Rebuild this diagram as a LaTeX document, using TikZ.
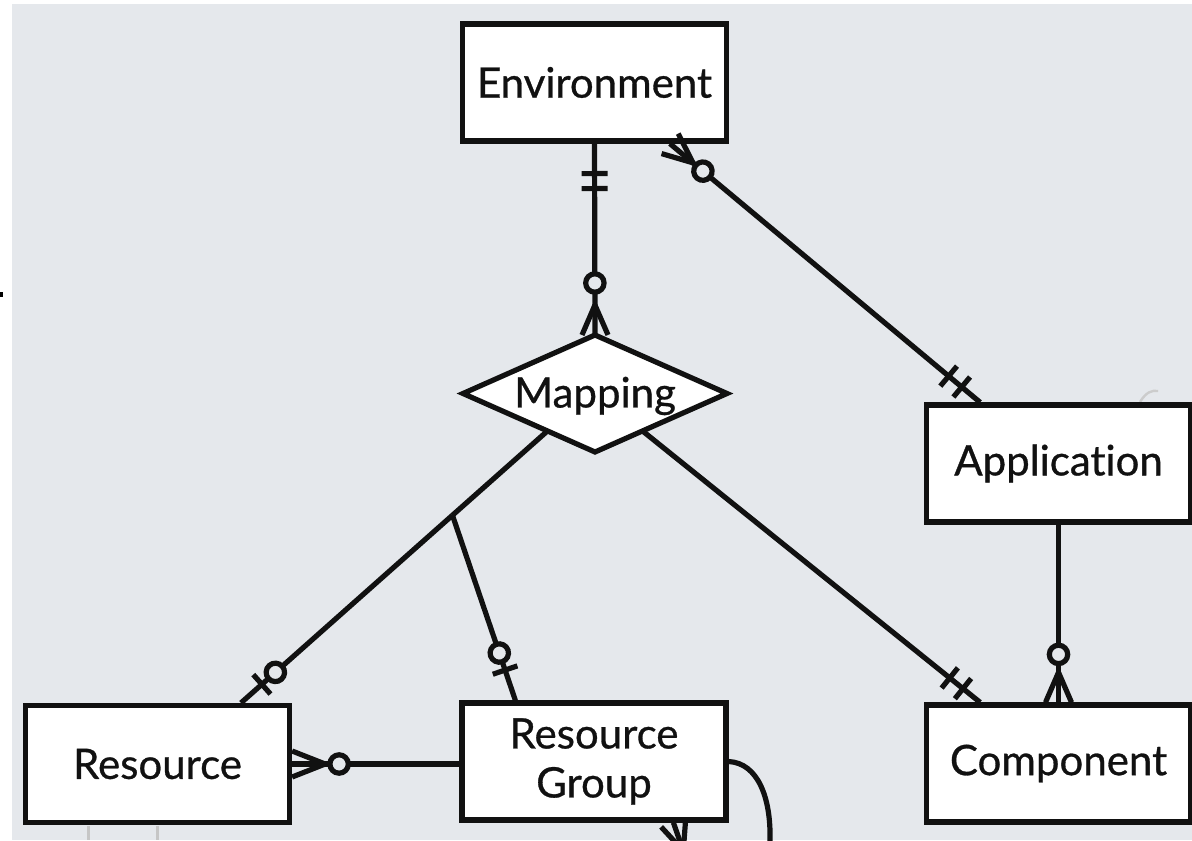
\documentclass[tikz,border=0pt]{standalone}
\usepackage{fontspec}
\setmainfont{Lato}[Ligatures=NoCommon,FakeBold=0.7]
\usetikzlibrary{calc,decorations.markings}
\definecolor{bg}{HTML}{E5E8EC}
\definecolor{ink}{HTML}{111111}
\newcommand{\lw}{2.6pt}
\tikzset{
  lbl/.style={font=\fontsize{21}{24.5}\selectfont,text=ink,align=center},
  entity/.style={lbl,draw=ink,line width=\lw,fill=white,rectangle,inner sep=0pt,
    minimum width=132pt,minimum height=58.5pt},
  conn/.style={draw=ink,line width=\lw},
  bar at/.style={postaction={decorate,decoration={markings,
    mark=at position #1 with {\draw[ink,line width=\lw] (0,-6.5pt)--(0,6.5pt);}}}},
  ring at/.style={postaction={decorate,decoration={markings,
    mark=at position #1 with {\draw[ink,line width=\lw,fill=bg] (0,0) circle (4.6pt);}}}},
  crow end/.style={postaction={decorate,decoration={markings,
    mark=at position -0.01pt with {\draw[ink,line width=\lw] (-#1,0)--(0,6.5pt) (-#1,0)--(0,-6.5pt);}}}},
  crow start/.style={postaction={decorate,decoration={markings,
    mark=at position 0.01pt with {\draw[ink,line width=\lw] (#1,0)--(0,6.5pt) (#1,0)--(0,-6.5pt);}}}},
}
\begin{document}
\begin{tikzpicture}[x=0.5pt,y=-0.5pt]
\useasboundingbox (0,0) rectangle (1192,840);
\clip (0,0) rectangle (1192,840);
\fill[white] (0,0) rectangle (1192,840);
\fill[bg] (12,4) rectangle (1192,840);
\fill[black] (0,292) rectangle (3,297);
\draw[gray!45,line width=1.5pt] (88,826) -- (88,840) (157,826) -- (157,840);
\draw[gray!40,line width=1.2pt] (1140,402) .. controls (1146,392) and (1152,390) .. (1158,391);

% entities
\node[entity] (env) at (594.5,82.5) {Environment};
\node[entity] (app) at (1058.5,463.5) {Application};
\node[entity] (comp) at (1058.5,763.5) {Component};
\node[entity] (res) at (157.5,764) {Resource};
\node[entity] (rg) at (594,761.5) {Resource\\Group};

% relationship (diamond)
\coordinate (mN) at (595,335);
\coordinate (mE) at (727,393.5);
\coordinate (mS) at (595,452);
\coordinate (mW) at (463,393.5);
\filldraw[fill=white,draw=ink,line width=\lw,line join=miter] (mN) -- (mE) -- (mS) -- (mW) -- cycle;
\node[lbl] (map) at (595,396) {Mapping};

% helper coordinates on borders
\coordinate (mapL) at ($(mW)!0.64!(mS)$);
\coordinate (mapR) at ($(mE)!0.64!(mS)$);
\coordinate (resT) at ($(res.north west)!0.81!(res.north east)$);
\coordinate (rgT) at ($(rg.north west)!0.208!(rg.north east)$);
\coordinate (rgB) at ($(rg.south west)!0.795!(rg.south east)$);
\coordinate (compT) at ($(comp.north west)!0.209!(comp.north east)$);
\coordinate (appT) at ($(app.north west)!0.209!(app.north east)$);
\coordinate (envB) at ($(env.south west)!0.78!(env.south east)$);
\coordinate (junc) at ($(mapL)!0.31!(resT)$);
\coordinate (loopE) at (684,853);

% connectors
\draw[conn,bar at=15pt,bar at=22.5pt,ring at=-26pt,crow end=15pt] (env.south) -- (mN);
\draw[conn,crow start=15pt,ring at=21.5pt,bar at=-12pt,bar at=-20.5pt] (envB) -- (appT);
\draw[conn,ring at=-24pt,crow end=15pt] (app.south) -- (app.south |- comp.north);
\draw[conn,bar at=-11pt,bar at=-19.5pt] (mapR) -- (compT);
\draw[conn] (mapL) -- (junc);
\draw[conn,bar at=-14pt,ring at=-23pt] (junc) -- (resT);
\draw[conn,bar at=-16pt,ring at=-25pt] (junc) -- (rgT);
\draw[conn,ring at=-23.5pt,crow end=16.5pt] (rg.west |- res.east) -- (res.east);
\draw[conn] (rg.east) .. controls (758,763) and (771,798) .. (770,840)
   .. controls (769,880) and (700,896) .. (loopE);
\draw[conn,crow end=15pt] (loopE) -- (rgB);
\end{tikzpicture}
\end{document}
